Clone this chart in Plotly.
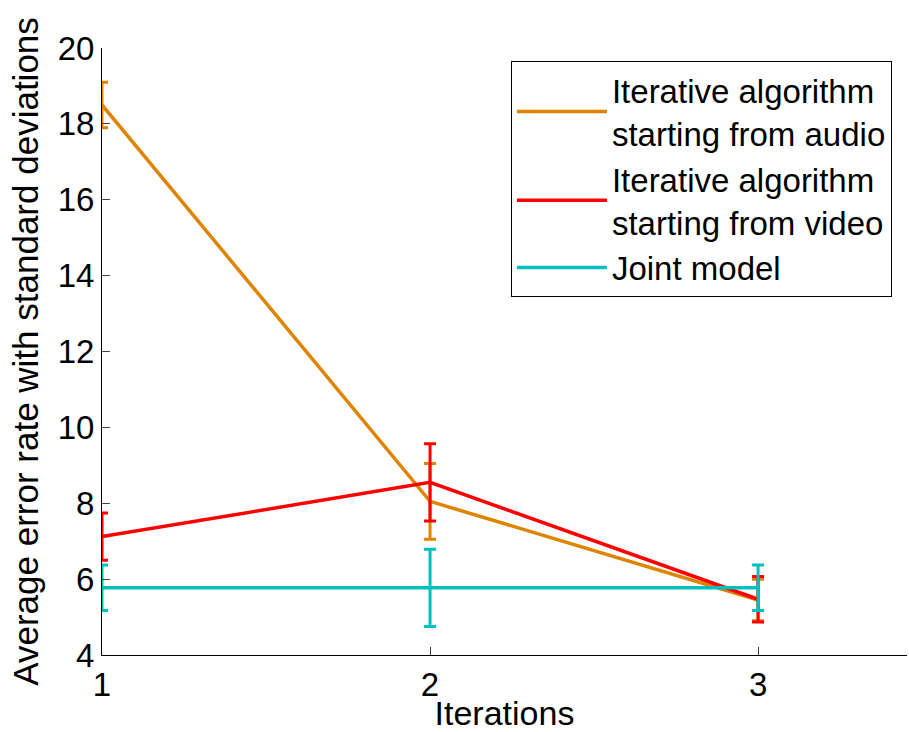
import plotly.graph_objects as go

iterations = [1, 2, 3]
audio_mean = [18.5, 8.05, 5.45]
audio_std = [0.6, 1.0, 0.55]
video_mean = [7.12, 8.55, 5.47]
video_std = [0.62, 1.02, 0.6]
joint_mean = [5.77, 5.77, 5.77]
joint_std = [0.6, 1.02, 0.6]

names = ["Iterative algorithm<br>starting from audio",
         "Iterative algorithm<br>starting from video",
         "Joint model"]
colors = ["#DF8400", "#FF0000", "#00BFBF"]

fig = go.Figure()
for name, mean, std, col in zip(names, [audio_mean, video_mean, joint_mean],
                                [audio_std, video_std, joint_std], colors):
    fig.add_trace(go.Scatter(
        x=iterations, y=mean, mode="lines", name=name,
        line=dict(color=col, width=3.5),
        error_y=dict(type="data", array=std, visible=True, color=col,
                     thickness=3, width=6),
    ))

fig.update_layout(
    width=909, height=732,
    paper_bgcolor="white", plot_bgcolor="white",
    margin=dict(l=102, r=2, t=48, b=77),
    font=dict(family="Liberation Sans, Arial, sans-serif", size=33, color="black"),
    showlegend=True,
    legend=dict(x=0.508, y=0.9786, xanchor="left", yanchor="top",
                bordercolor="black", borderwidth=1, bgcolor="white",
                font=dict(size=33), tracegroupgap=0, itemwidth=90),
    xaxis=dict(range=[1, 3.454], tickvals=[1, 2, 3], ticks="inside", ticklen=8,
               showline=True, linecolor="black", linewidth=1, showgrid=False,
               zeroline=False, automargin=False,
               title=dict(text="Iterations", standoff=2, font=dict(size=34)),
               tickfont=dict(size=33)),
    yaxis=dict(range=[4, 20], tickvals=list(range(4, 21, 2)), ticks="inside", ticklen=8,
               showline=True, linecolor="black", linewidth=1, showgrid=False,
               zeroline=False, automargin=False,
               title=dict(text="Average error rate with standard deviations",
                          standoff=8, font=dict(size=35)),
               tickfont=dict(size=33)),
)
fig.write_html("out.html", post_script="document.body.style.margin='0';",
               config={"displayModeBar": False})
